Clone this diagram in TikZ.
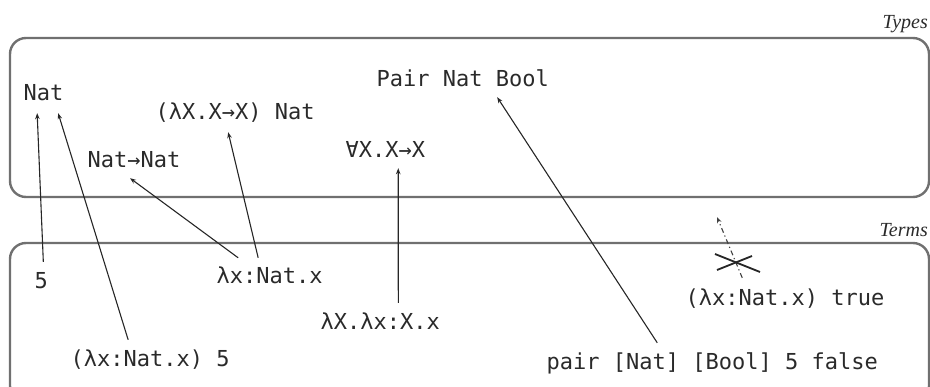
\documentclass[tikz,border=0pt]{standalone}
\usepackage{fontspec}
\newfontfamily\monof{DejaVu Sans Mono}
\newfontfamily\seriff{Liberation Serif}
\usetikzlibrary{arrows.meta,calc}
\definecolor{boxc}{HTML}{707070}
\definecolor{txtc}{HTML}{2A2A2A}
\tikzset{
  region/.style={draw=boxc,line width=2.4pt,rounded corners=16pt},
  term/.style={anchor=base west,inner sep=0pt,text height=16pt,text depth=5pt,
    font=\monof\fontsize{22}{26}\selectfont,text=txtc},
  lbl/.style={anchor=base east,inner sep=0pt,font=\seriff\itshape\fontsize{20}{24}\selectfont,text=txtc},
  arr/.style={line width=1.1pt,draw=black!85,-{Stealth[length=6pt,width=4.5pt]}},
  badarr/.style={line width=1.1pt,draw=black!75,dash pattern=on 5pt off 3pt on 1.2pt off 3pt,-{Stealth[length=6pt,width=4.5pt]}},
  crossln/.style={line width=1.8pt,draw=black!85}
}
\begin{document}
\begin{tikzpicture}[x=1pt,y=-1pt]
\useasboundingbox (0,0) rectangle (930,387);
% regions
\draw[region] (10,38) rectangle (929,197);
\draw[region] (10,243) rectangle (929,402);
\node[lbl] (typeslbl) at (928,29) {Types};
\node[lbl] (termslbl) at (928,237) {Terms};
% types
\node[term] (nat) at (23.5,101) {Nat};
\node[term] (tapp) at (155.5,120) {(λX.X→X) Nat};
\node[term] (natnat) at (87.5,168) {Nat→Nat};
\node[term] (forall) at (345.5,158) {∀X.X→X};
\node[term] (pairT) at (376.5,87) {Pair Nat Bool};
% terms
\node[term] (five) at (34.5,289) {5};
\node[term] (lamnat) at (216.5,284) {λx:Nat.x};
\node[term] (tlam) at (320.5,330) {λX.λx:X.x};
\node[term] (app5) at (70.5,367) {(λx:Nat.x) 5};
\node[term] (bad) at (685.5,306) {(λx:Nat.x) true};
\node[term] (pairt) at (546.5,370) {pair [Nat] [Bool] 5 false};
% arrows
\draw[arr] ([xshift=2pt,yshift=11pt]five.north) -- ([xshift=-6.4pt,yshift=-7pt]nat.south);
\draw[arr] ([xshift=-22pt,yshift=11pt]app5.north) -- ([xshift=14.6pt,yshift=-7pt]nat.south);
\draw[arr] ([xshift=-31.5pt,yshift=10pt]lamnat.north) -- ([xshift=-4pt,yshift=-5pt]natnat.south);
\draw[arr] ([xshift=-11.5pt,yshift=10pt]lamnat.north) -- ([xshift=-7pt,yshift=-7pt]tapp.south);
\draw[arr] ([xshift=18pt,yshift=11pt]tlam.north) -- ([xshift=12.8pt,yshift=-5pt]forall.south);
\draw[arr] ([xshift=-55pt,yshift=11pt]pairt.north) -- ([xshift=34.4pt,yshift=-5pt]pairT.south);
% ill-typed term
\coordinate (badtip) at (717,217);
\draw[badarr] ([xshift=-42.8pt,yshift=12pt]bad.north) -- (badtip);
\coordinate (cx) at (737,262);
\draw[crossln] ($(cx)+(-22,-8)$) -- ($(cx)+(23,10)$);
\draw[crossln] ($(cx)+(-20,8)$) -- ($(cx)+(15,-6)$);
\end{tikzpicture}
\end{document}
